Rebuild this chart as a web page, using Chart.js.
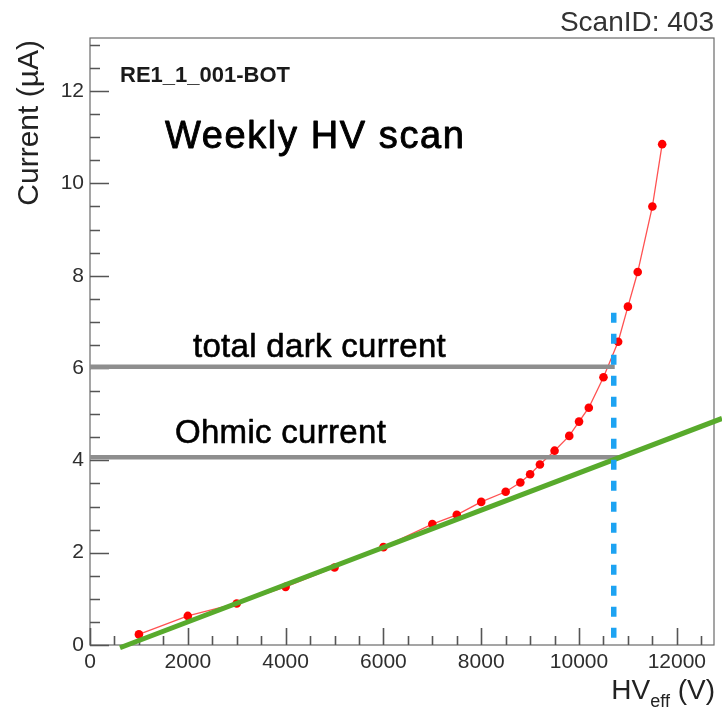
<!DOCTYPE html>
<html>
<head>
<meta charset="utf-8">
<script src="https://cdn.jsdelivr.net/npm/chart.js@4/dist/chart.umd.min.js"></script>
<style>
  html, body { margin: 0; padding: 0; background: #ffffff; }
  #wrap { width: 722px; height: 713px; }
</style>
</head>
<body>
<div id="wrap"><canvas id="hvscan" width="722" height="713"></canvas></div>
<script>
// Weekly HV scan of RE1_1_001-BOT: current vs effective HV
const hvValues = [1000, 2000, 3000, 4000, 5000, 6000, 7000, 7500, 8000, 8500, 8800,
                  9000, 9200, 9500, 9800, 10000, 10200, 10500, 10800, 11000, 11200, 11500, 11700];
const currentValues = [0.23, 0.63, 0.90, 1.26, 1.68, 2.12, 2.62, 2.82, 3.10, 3.32, 3.52,
                       3.70, 3.91, 4.21, 4.53, 4.84, 5.14, 5.80, 6.57, 7.33, 8.08, 9.50, 10.85];

// axis ranges and tick labels
const hvRange = [0, 12760];
const currentRange = [0, 13.15];
const hvTickLabels = [0, 2000, 4000, 6000, 8000, 10000, 12000];
const currentTickLabels = [0, 2, 4, 6, 8, 10, 12];
const hvMinorStep = 500;
const currentMinorStep = 0.5;

// working point and reference currents
const operatingHV = 10710;
const operatingMarkerTop = 7.2;
const totalDarkCurrent = 6.03;
const totalDarkEndHV = 10730;
const ohmicCurrent = 4.07;
const ohmicEndHV = 10840;

// linear (ohmic) fit of the low-voltage part
const ohmicSlope = 0.0004035;   // uA per V
const ohmicOffset = -0.307;     // uA
const ohmicFitHV = [613, 12924];

const FONT = "'Liberation Sans', Arial, Helvetica, sans-serif";

const scanPoints = hvValues.map((v, i) => ({ x: v, y: currentValues[i] }));
const fitPoints = ohmicFitHV.map(v => ({ x: v, y: ohmicSlope * v + ohmicOffset }));

// frame with inward major/minor ticks
const framePlugin = {
  id: 'frame',
  beforeDatasetsDraw(chart) {
    const { ctx, chartArea: a, scales: { x, y } } = chart;
    ctx.save();
    ctx.strokeStyle = '#6a6a6a';
    ctx.lineWidth = 1.2;
    ctx.strokeRect(a.left, a.top, a.right - a.left, a.bottom - a.top);
    ctx.lineWidth = 1.6;
    ctx.strokeStyle = '#555';
    ctx.beginPath();
    for (let v = hvRange[0]; v <= hvRange[1] + 1e-6; v += hvMinorStep) {
      const px = Math.round(x.getPixelForValue(v)) + 0.5;
      const major = hvTickLabels.includes(v);
      ctx.moveTo(px, a.bottom);
      ctx.lineTo(px, a.bottom - (major ? 17 : 9));
    }
    for (let c = currentRange[0]; c <= currentRange[1] + 1e-6; c += currentMinorStep) {
      const py = Math.round(y.getPixelForValue(c)) + 0.5;
      const major = currentTickLabels.includes(Math.round(c * 100) / 100);
      ctx.moveTo(a.left, py);
      ctx.lineTo(a.left + (major ? 19 : 10), py);
    }
    ctx.stroke();
    ctx.restore();
  }
};

// draw text with a thin outline of the same colour for a heavier look
function heavyText(ctx, text, x, y, weight) {
  ctx.fillText(text, x, y);
  ctx.lineWidth = weight;
  ctx.strokeStyle = ctx.fillStyle;
  ctx.strokeText(text, x, y);
}

// titles, annotations and axis titles
const textPlugin = {
  id: 'texts',
  afterDraw(chart) {
    const { ctx, chartArea: a, scales: { y } } = chart;
    ctx.save();
    ctx.textBaseline = 'alphabetic';
    ctx.lineJoin = 'round';

    ctx.fillStyle = '#333';
    ctx.font = `28px ${FONT}`;
    ctx.textAlign = 'right';
    ctx.fillText('ScanID: 403', a.right, 31);

    ctx.textAlign = 'left';
    ctx.fillStyle = '#1a1a1a';
    ctx.font = `bold 22px ${FONT}`;
    ctx.fillText('RE1_1_001-BOT', 120, 81.5);

    ctx.fillStyle = '#000';
    ctx.font = `38px ${FONT}`;
    ctx.letterSpacing = '1.6px';
    heavyText(ctx, 'Weekly HV scan', 165, 148, 0.9);

    ctx.font = `33px ${FONT}`;
    ctx.letterSpacing = '0.3px';
    heavyText(ctx, 'total dark current', 193, y.getPixelForValue(totalDarkCurrent) - 10, 0.6);
    heavyText(ctx, 'Ohmic current', 175, y.getPixelForValue(ohmicCurrent) - 14, 0.6);
    ctx.letterSpacing = '0px';

    // y axis title, right-aligned to the top of the axis
    ctx.fillStyle = '#222';
    ctx.save();
    ctx.translate(38, a.top + 2);
    ctx.rotate(-Math.PI / 2);
    ctx.font = `30px ${FONT}`;
    ctx.textAlign = 'right';
    ctx.fillText('Current (\u00B5A)', 0, 0);
    ctx.restore();

    // x axis title with subscript, right-aligned to the end of the axis
    const base = 699;
    ctx.textAlign = 'left';
    ctx.font = `28px ${FONT}`;
    const wHV = ctx.measureText('HV').width;
    const wTail = ctx.measureText(' (V)').width;
    ctx.font = `18px ${FONT}`;
    const wSub = ctx.measureText('eff').width;
    let xs = a.right + 1 - (wHV + wSub + wTail);
    ctx.font = `28px ${FONT}`;
    ctx.fillText('HV', xs, base);
    ctx.font = `18px ${FONT}`;
    ctx.fillText('eff', xs + wHV, base + 8);
    ctx.font = `28px ${FONT}`;
    ctx.fillText(' (V)', xs + wHV + wSub, base);
    ctx.restore();
  }
};

new Chart(document.getElementById('hvscan'), {
  type: 'scatter',
  data: {
    datasets: [
      {
        label: 'operating point',
        data: [{ x: operatingHV, y: operatingMarkerTop }, { x: operatingHV, y: currentRange[0] }],
        showLine: true,
        borderColor: '#1da3f2',
        borderWidth: 5.5,
        borderDash: [10, 11],
        pointRadius: 0,
        borderCapStyle: 'butt',
        order: 0
      },
      {
        label: 'ohmic fit',
        data: fitPoints,
        showLine: true,
        borderColor: '#58aa2c',
        borderWidth: 5,
        pointRadius: 0,
        clip: false,
        order: 1
      },
      {
        label: 'total dark current',
        data: [{ x: hvRange[0], y: totalDarkCurrent }, { x: totalDarkEndHV, y: totalDarkCurrent }],
        showLine: true,
        borderColor: '#8e8e8e',
        borderWidth: 4.5,
        pointRadius: 0,
        borderCapStyle: 'butt',
        order: 2
      },
      {
        label: 'ohmic current',
        data: [{ x: hvRange[0], y: ohmicCurrent }, { x: ohmicEndHV, y: ohmicCurrent }],
        showLine: true,
        borderColor: '#8e8e8e',
        borderWidth: 4.5,
        pointRadius: 0,
        borderCapStyle: 'butt',
        order: 3
      },
      {
        label: 'scan',
        data: scanPoints,
        showLine: true,
        borderColor: 'rgba(255, 50, 50, 0.85)',
        borderWidth: 1.3,
        pointRadius: 4.3,
        pointBackgroundColor: '#ff0000',
        pointBorderWidth: 0,
        order: 4
      }
    ]
  },
  options: {
    responsive: false,
    animation: false,
    events: [],
    layout: { padding: { top: 38, right: 8, left: 0, bottom: 0 } },
    plugins: { legend: { display: false }, tooltip: { enabled: false }, title: { display: false } },
    scales: {
      x: {
        type: 'linear',
        min: hvRange[0],
        max: hvRange[1],
        afterFit(scale) { scale.height = 68; },
        grid: { display: false, drawTicks: false },
        border: { display: false },
        afterBuildTicks(scale) { scale.ticks = hvTickLabels.map(v => ({ value: v })); },
        ticks: {
          padding: 5,
          maxRotation: 0,
          autoSkip: false,
          color: '#2e2e2e',
          font: { family: FONT, size: 21 },
          callback: v => String(v)
        }
      },
      y: {
        type: 'linear',
        min: currentRange[0],
        max: currentRange[1],
        afterFit(scale) { scale.width = 90; },
        grid: { display: false, drawTicks: false },
        border: { display: false },
        afterBuildTicks(scale) { scale.ticks = currentTickLabels.map(v => ({ value: v })); },
        ticks: {
          padding: 6,
          autoSkip: false,
          color: '#2e2e2e',
          font: { family: FONT, size: 21 },
          callback: v => String(v)
        }
      }
    }
  },
  plugins: [framePlugin, textPlugin]
});
</script>
</body>
</html>
